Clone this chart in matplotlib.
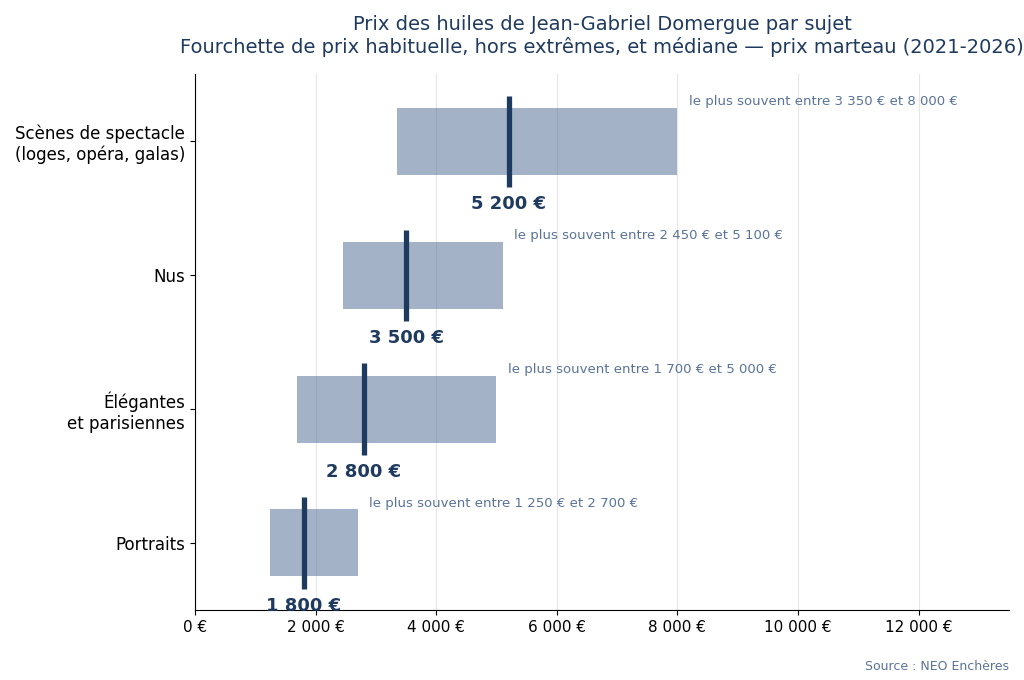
import matplotlib
matplotlib.use("Agg")
import matplotlib.pyplot as plt
from matplotlib.ticker import FuncFormatter

categories = ["Scènes de spectacle\n(loges, opéra, galas)", "Nus",
              "Élégantes\net parisiennes", "Portraits"]
low = [3350, 2450, 1700, 1250]
high = [8000, 5100, 5000, 2700]
median = [5200, 3500, 2800, 1800]

def fmt(v):
    return f"{int(v):,}".replace(",", " ") + " €"

dark = "#1f3a5f"
muted = "#5a7399"

fig, ax = plt.subplots(figsize=(10.24, 6.8), dpi=100)
fig.subplots_adjust(left=0.1904, right=0.9854, top=0.891, bottom=0.103)

ys = list(range(len(categories)))
for y, lo, hi, md in zip(ys, low, high, median):
    ax.barh(y, hi - lo, left=lo, height=0.5, color="#4a6690", alpha=0.5, zorder=2)
    ax.vlines(md, y - 0.34, y + 0.34, color=dark, linewidth=3.8, zorder=3)
    ax.text(md, y + 0.47, fmt(md), ha="center", va="center", fontsize=13,
            fontweight="bold", color=dark, zorder=4)
    ax.text(hi + 190, y - 0.295, f"le plus souvent entre {fmt(lo)} et {fmt(hi)}",
            ha="left", va="center", fontsize=9.5, color=muted, zorder=4)

ax.set_yticks(ys)
ax.set_yticklabels(categories, fontsize=12)
ax.set_ylim(3.5, -0.5)
ax.set_xlim(0, 13500)
ax.set_xticks(range(0, 13000, 2000))
ax.xaxis.set_major_formatter(FuncFormatter(lambda v, p: fmt(v)))
ax.tick_params(axis="x", labelsize=11)
ax.grid(axis="x", color="#e6e6e6", linewidth=0.8, zorder=0)
ax.set_axisbelow(True)
for s in ["top", "right"]:
    ax.spines[s].set_visible(False)

ax.set_title("Prix des huiles de Jean-Gabriel Domergue par sujet\n"
             "Fourchette de prix habituelle, hors extrêmes, et médiane — prix marteau (2021-2026)",
             fontsize=14, color=dark, pad=15)
fig.text(0.9854, 0.02, "Source : NEO Enchères", ha="right", va="center",
         fontsize=9, color=muted)

fig.savefig("out.png", dpi=100)
